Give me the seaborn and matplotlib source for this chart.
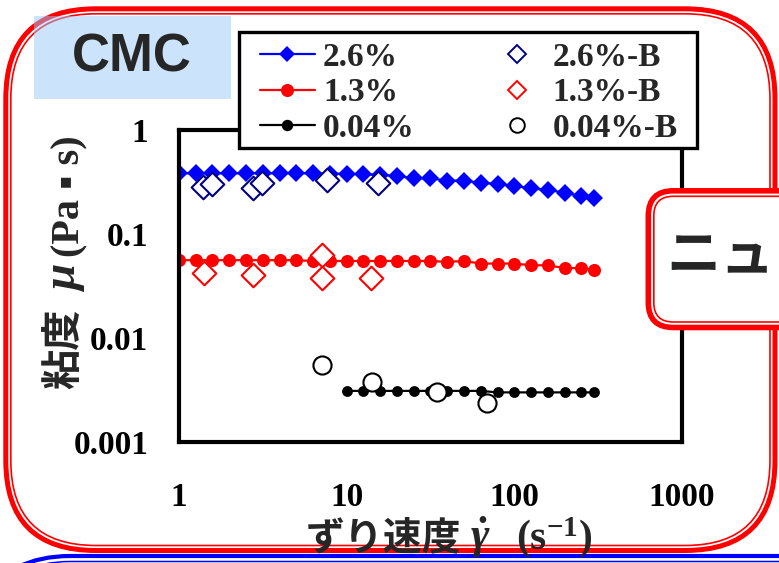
import matplotlib
matplotlib.use("Agg")
import matplotlib.pyplot as plt
from matplotlib.patches import FancyBboxPatch, Rectangle
from matplotlib.lines import Line2D
from matplotlib.ticker import NullLocator, LogLocator
from matplotlib.font_manager import FontProperties
import seaborn as sns

# ---- data: viscosity vs. shear rate for CMC solutions ----
shear_rate = [1.00, 1.26, 1.58, 2.00, 2.51, 3.16, 3.98, 5.01, 6.31, 7.94,
              10.0, 12.6, 15.8, 20.0, 25.1, 31.6, 39.8, 50.1, 63.1, 79.4,
              100, 126, 158, 200, 251, 300]
visc_26 = [0.383, 0.383, 0.383, 0.383, 0.383, 0.383, 0.383, 0.383, 0.383, 0.380,
           0.380, 0.375, 0.370, 0.361, 0.343, 0.343, 0.326, 0.326, 0.311, 0.303,
           0.290, 0.275, 0.265, 0.250, 0.232, 0.220]
visc_13 = [0.056, 0.056, 0.056, 0.056, 0.056, 0.056, 0.056, 0.056, 0.055, 0.055,
           0.055, 0.055, 0.055, 0.055, 0.055, 0.055, 0.054, 0.055, 0.052, 0.052,
           0.052, 0.050, 0.050, 0.047, 0.047, 0.045]
shear_rate_004 = [10.0, 12.6, 15.8, 20.0, 25.1, 31.6, 39.8, 50.1, 63.1, 79.4,
                  100, 126, 158, 200, 251, 300]
visc_004 = [0.0031, 0.0031, 0.0031, 0.0031, 0.0031, 0.0031, 0.0031, 0.0031,
            0.0031, 0.0030, 0.0030, 0.0030, 0.0030, 0.0030, 0.0030, 0.0030]

rate_26b = [1.39, 1.57, 2.76, 3.11, 7.6, 15.4]
visc_26b = [0.285, 0.303, 0.275, 0.311, 0.331, 0.307]
rate_13b = [1.40, 2.75, 7.09, 7.09, 13.9]
visc_13b = [0.0419, 0.0403, 0.0628, 0.0375, 0.0375]
rate_004b = [7.1, 14.1, 34.4, 68.9]
visc_004b = [0.0055, 0.0038, 0.00305, 0.00239]

series_labels = ["2.6%", "1.3%", "0.04%", "2.6%-B", "1.3%-B", "0.04%-B"]
xtick_values = [1, 10, 100, 1000]
xtick_labels = ["1", "10", "100", "1000"]
ytick_values = [0.001, 0.01, 0.1, 1]
ytick_labels = ["0.001", "0.01", "0.1", "1"]

BLUE, RED, NAVY = "#0000ff", "#ff0000", "#000080"
W, H = 779, 563

sns.set_style("white")
plt.rcParams["mathtext.fontset"] = "custom"
plt.rcParams["mathtext.rm"] = "Liberation Serif:bold"
plt.rcParams["mathtext.it"] = "Liberation Serif:bold:italic"
plt.rcParams["mathtext.bf"] = "Liberation Serif:bold"

serif_b = dict(family="Liberation Serif", weight="bold")
jp_b = dict(family=["Noto Sans CJK JP", "DejaVu Sans"], weight="bold")

fig = plt.figure(figsize=(W / 100, H / 100), dpi=100, facecolor="white")

# pixel-coordinate layers behind and above the plot
bg = fig.add_axes([0, 0, 1, 1], zorder=-1)
ov = fig.add_axes([0, 0, 1, 1], zorder=10)
for a in (bg, ov):
    a.set_xlim(0, W)
    a.set_ylim(H, 0)
    a.axis("off")

# main plot area
x0, x1, y0, y1 = 179, 682, 130, 442
ax = fig.add_axes([x0 / W, (H - y1) / H, (x1 - x0) / W, (y1 - y0) / H], zorder=0)
ax.patch.set_alpha(0)

sns.lineplot(x=shear_rate, y=visc_26, ax=ax, color=BLUE, marker="D",
             markersize=8.8, markeredgewidth=0, linewidth=1.6, legend=False)
sns.lineplot(x=shear_rate, y=visc_13, ax=ax, color=RED, marker="o",
             markersize=9.4, markeredgewidth=0, linewidth=1.6, legend=False)
sns.lineplot(x=shear_rate_004, y=visc_004, ax=ax, color="black", marker="o",
             markersize=7.8, markeredgewidth=0, linewidth=1.6, legend=False)
sns.scatterplot(x=rate_26b, y=visc_26b, ax=ax, marker="D", s=145, color="white",
                edgecolor=NAVY, linewidth=1.5, zorder=4, legend=False)
sns.scatterplot(x=rate_13b, y=visc_13b, ax=ax, marker="D", s=145, color="white",
                edgecolor=RED, linewidth=1.5, zorder=4, legend=False)
sns.scatterplot(x=rate_004b, y=visc_004b, ax=ax, marker="o", s=170, color="white",
                edgecolor="black", linewidth=1.5, zorder=4, legend=False)

ax.set_xscale("log")
ax.set_yscale("log")
ax.set_xlim(1, 1000)
ax.set_ylim(0.001, 1)
ax.set_xticks(xtick_values, labels=xtick_labels, fontsize=24, **serif_b)
ax.set_yticks(ytick_values, labels=ytick_labels, fontsize=24, **serif_b)
ax.xaxis.set_minor_locator(LogLocator(base=10, subs=range(2, 10)))
ax.yaxis.set_minor_locator(NullLocator())
ax.tick_params(axis="both", which="major", direction="in", length=6.5, width=2.2,
               colors="black")
ax.tick_params(axis="x", which="minor", direction="in", length=5, width=2.0)
ax.tick_params(axis="x", which="major", pad=29)
ax.tick_params(axis="y", which="major", pad=22)
ax.set_xlabel("")
ax.set_ylabel("")
for sp in ax.spines.values():
    sp.set_linewidth(3.0)
    sp.set_color("black")
    sp.set_visible(True)

# ---- slide decorations ----
def double_box(axis, x, y, w, h, r, color, lw_out, lw_in, inset, z, fill="none"):
    axis.add_patch(FancyBboxPatch((x, y), w, h, boxstyle=f"round,pad=0,rounding_size={r}",
                                  fc=fill, ec=color, lw=lw_out, zorder=z))
    axis.add_patch(FancyBboxPatch((x + inset, y + inset), w - 2 * inset, h - 2 * inset,
                                  boxstyle=f"round,pad=0,rounding_size={r - inset}",
                                  fc="none", ec=color, lw=lw_in, zorder=z + 0.1))

double_box(bg, 5.8, 8.8, 775 - 5.8, 550.5 - 8.8, 90, RED, 3.6, 1.2, 5.0, 1)
double_box(bg, -50, 556, 1000, 300, 120, BLUE, 3.0, 1.1, 5.5, 1)

bg.add_patch(Rectangle((34, 16), 197, 83, fc="#99c9f9", alpha=0.5, ec="none", zorder=3))
bg.text(132, 58, "CMC", ha="center", va="center", fontsize=38,
        family="Liberation Sans", weight="bold", zorder=4)

double_box(ov, 648.3, 190.8, 400, 136.7, 25, RED, 4.0, 1.2, 5.5, 1, fill="white")
ov.text(666, 257, "ニュ", ha="left", va="center", fontsize=39, zorder=3, **jp_b)

# legend with its own frame
ov.add_patch(Rectangle((239, 32), 458, 116, fc="white", ec="black", lw=2.4, zorder=4))
handles = [
    Line2D([], [], color=BLUE, marker="D", markersize=8.0, markeredgewidth=0, lw=1.6),
    Line2D([], [], color=RED, marker="o", markersize=9.4, markeredgewidth=0, lw=1.6),
    Line2D([], [], color="black", marker="o", markersize=8.2, markeredgewidth=0, lw=1.6),
    Line2D([], [], ls="none", marker="D", markersize=9.0, mfc="white", mec=NAVY, mew=1.4),
    Line2D([], [], ls="none", marker="D", markersize=9.0, mfc="white", mec=RED, mew=1.4),
    Line2D([], [], ls="none", marker="o", markersize=10.5, mfc="white", mec="black", mew=1.4),
]
leg = ov.legend(handles, series_labels, ncol=2, loc="upper left",
                bbox_to_anchor=(260, 42), bbox_transform=ov.transData,
                frameon=False, borderpad=0, borderaxespad=0,
                handlelength=1.65, handletextpad=0.24, columnspacing=2.24,
                labelspacing=0.13,
                prop=FontProperties(family="Liberation Serif", weight="bold", size=24))
leg.set_zorder(5)

# axis titles built from pieces (Japanese, Greek symbol, units)
ov.text(306, 549, "ずり速度", ha="left", va="baseline", fontsize=28, **jp_b)
ov.text(470, 549, r"$\dot{\gamma}$", ha="left", va="baseline", fontsize=32,
        math_fontfamily="custom")
ov.text(516, 549, r"$\mathrm{(s^{-1})}$", ha="left", va="baseline", fontsize=30,
        math_fontfamily="custom")

ov.text(76, 389, "粘度", rotation=90, rotation_mode="anchor", ha="left",
        va="baseline", fontsize=29, **jp_b)
ov.text(75, 292, r"$\mu$", rotation=90, rotation_mode="anchor", ha="left",
        va="baseline", fontsize=34, math_fontfamily="custom")
ov.text(79, 257, "(Pa ▪ s)", rotation=90, rotation_mode="anchor", ha="left",
        va="baseline", fontsize=29,
        family=["Liberation Serif", "DejaVu Sans"], weight="bold")

fig.savefig("out.png", dpi=100, facecolor="white")
